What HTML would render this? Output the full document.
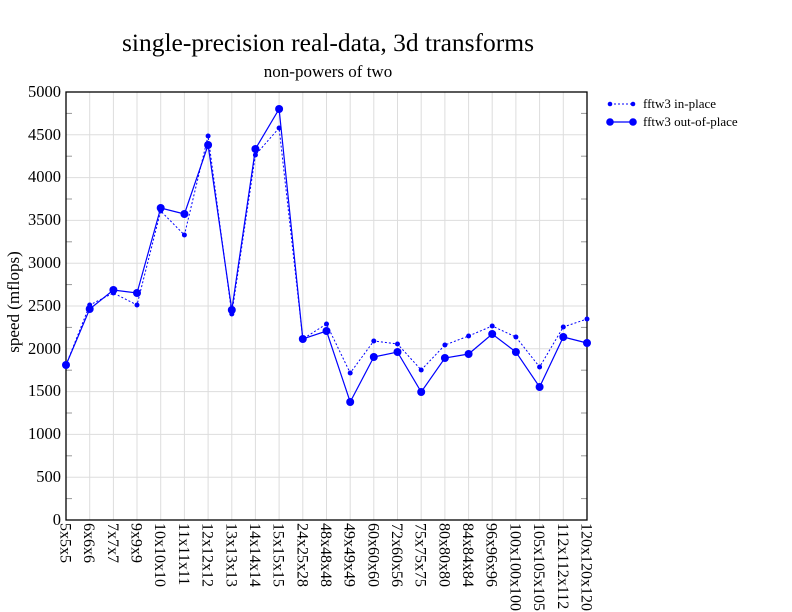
<!DOCTYPE html>
<html><head><meta charset="utf-8"><style>body{margin:0;background:#fff}svg{display:block}text{font-family:"Liberation Serif",serif}</style></head><body>
<svg width="792" height="612" viewBox="0 0 792 612" xmlns="http://www.w3.org/2000/svg">
<text x="328" y="51" font-size="25.5" text-anchor="middle">single-precision real-data, 3d transforms</text>
<text x="328" y="77" font-size="17" text-anchor="middle">non-powers of two</text>
<g stroke="#dddddd" stroke-width="1">
<line x1="66" y1="477.2" x2="587" y2="477.2"/><line x1="66" y1="434.4" x2="587" y2="434.4"/><line x1="66" y1="391.6" x2="587" y2="391.6"/><line x1="66" y1="348.8" x2="587" y2="348.8"/><line x1="66" y1="306" x2="587" y2="306"/><line x1="66" y1="263.2" x2="587" y2="263.2"/><line x1="66" y1="220.4" x2="587" y2="220.4"/><line x1="66" y1="177.6" x2="587" y2="177.6"/><line x1="66" y1="134.8" x2="587" y2="134.8"/>
<line x1="89.7" y1="92" x2="89.7" y2="520"/><line x1="113.4" y1="92" x2="113.4" y2="520"/><line x1="137" y1="92" x2="137" y2="520"/><line x1="160.7" y1="92" x2="160.7" y2="520"/><line x1="184.4" y1="92" x2="184.4" y2="520"/><line x1="208.1" y1="92" x2="208.1" y2="520"/><line x1="231.8" y1="92" x2="231.8" y2="520"/><line x1="255.4" y1="92" x2="255.4" y2="520"/><line x1="279.1" y1="92" x2="279.1" y2="520"/><line x1="302.8" y1="92" x2="302.8" y2="520"/><line x1="326.5" y1="92" x2="326.5" y2="520"/><line x1="350.2" y1="92" x2="350.2" y2="520"/><line x1="373.8" y1="92" x2="373.8" y2="520"/><line x1="397.5" y1="92" x2="397.5" y2="520"/><line x1="421.2" y1="92" x2="421.2" y2="520"/><line x1="444.9" y1="92" x2="444.9" y2="520"/><line x1="468.6" y1="92" x2="468.6" y2="520"/><line x1="492.2" y1="92" x2="492.2" y2="520"/><line x1="515.9" y1="92" x2="515.9" y2="520"/><line x1="539.6" y1="92" x2="539.6" y2="520"/><line x1="563.3" y1="92" x2="563.3" y2="520"/>
</g>
<g stroke="#999" stroke-width="1">
<line x1="66" y1="498.6" x2="72" y2="498.6"/><line x1="66" y1="455.8" x2="72" y2="455.8"/><line x1="66" y1="413" x2="72" y2="413"/><line x1="66" y1="370.2" x2="72" y2="370.2"/><line x1="66" y1="327.4" x2="72" y2="327.4"/><line x1="66" y1="284.6" x2="72" y2="284.6"/><line x1="66" y1="241.8" x2="72" y2="241.8"/><line x1="66" y1="199" x2="72" y2="199"/><line x1="66" y1="156.2" x2="72" y2="156.2"/><line x1="66" y1="113.4" x2="72" y2="113.4"/>
<line x1="581" y1="498.6" x2="587" y2="498.6"/><line x1="581" y1="455.8" x2="587" y2="455.8"/><line x1="581" y1="413" x2="587" y2="413"/><line x1="581" y1="370.2" x2="587" y2="370.2"/><line x1="581" y1="327.4" x2="587" y2="327.4"/><line x1="581" y1="284.6" x2="587" y2="284.6"/><line x1="581" y1="241.8" x2="587" y2="241.8"/><line x1="581" y1="199" x2="587" y2="199"/><line x1="581" y1="156.2" x2="587" y2="156.2"/><line x1="581" y1="113.4" x2="587" y2="113.4"/>
</g>
<rect x="66" y="92" width="521" height="428" fill="none" stroke="#000" stroke-width="1.3"/>
<g font-size="16.5" text-anchor="end">
<text x="61" y="525">0</text><text x="61" y="482">500</text><text x="61" y="439">1000</text><text x="61" y="396">1500</text><text x="61" y="354">2000</text><text x="61" y="311">2500</text><text x="61" y="268">3000</text><text x="61" y="225">3500</text><text x="61" y="182">4000</text><text x="61" y="140">4500</text><text x="61" y="97">5000</text>
</g>
<text transform="translate(19,302) rotate(-90)" font-size="17" text-anchor="middle">speed (mflops)</text>
<g font-size="16">
<text transform="translate(60.5,523) rotate(90)">5x5x5</text>
<text transform="translate(84.2,523) rotate(90)">6x6x6</text>
<text transform="translate(107.9,523) rotate(90)">7x7x7</text>
<text transform="translate(131.5,523) rotate(90)">9x9x9</text>
<text transform="translate(155.2,523) rotate(90)">10x10x10</text>
<text transform="translate(178.9,523) rotate(90)">11x11x11</text>
<text transform="translate(202.6,523) rotate(90)">12x12x12</text>
<text transform="translate(226.3,523) rotate(90)">13x13x13</text>
<text transform="translate(249.9,523) rotate(90)">14x14x14</text>
<text transform="translate(273.6,523) rotate(90)">15x15x15</text>
<text transform="translate(297.3,523) rotate(90)">24x25x28</text>
<text transform="translate(321,523) rotate(90)">48x48x48</text>
<text transform="translate(344.7,523) rotate(90)">49x49x49</text>
<text transform="translate(368.3,523) rotate(90)">60x60x60</text>
<text transform="translate(392,523) rotate(90)">72x60x56</text>
<text transform="translate(415.7,523) rotate(90)">75x75x75</text>
<text transform="translate(439.4,523) rotate(90)">80x80x80</text>
<text transform="translate(463.1,523) rotate(90)">84x84x84</text>
<text transform="translate(486.7,523) rotate(90)">96x96x96</text>
<text transform="translate(510.4,523) rotate(90)">100x100x100</text>
<text transform="translate(534.1,523) rotate(90)">105x105x105</text>
<text transform="translate(557.8,523) rotate(90)">112x112x112</text>
<text transform="translate(581.5,523) rotate(90)">120x120x120</text>
</g>
<g fill="#0000ff" stroke="#0000ff">
<polyline fill="none" stroke-width="1" stroke-dasharray="2,2" points="66,365 89.7,305 113.4,293 137,305 160.7,211 184.4,235 208.1,136 231.8,314 255.4,155 279.1,128 302.8,339 326.5,324 350.2,373 373.8,341 397.5,344 421.2,370 444.9,345 468.6,336 492.2,326 515.9,337 539.6,367 563.3,327 587,319"/>
<g stroke="none">
<circle cx="66" cy="365" r="2.5"/><circle cx="89.7" cy="305" r="2.5"/><circle cx="113.4" cy="293" r="2.5"/><circle cx="137" cy="305" r="2.5"/><circle cx="160.7" cy="211" r="2.5"/><circle cx="184.4" cy="235" r="2.5"/><circle cx="208.1" cy="136" r="2.5"/><circle cx="231.8" cy="314" r="2.5"/><circle cx="255.4" cy="155" r="2.5"/><circle cx="279.1" cy="128" r="2.5"/><circle cx="302.8" cy="339" r="2.5"/><circle cx="326.5" cy="324" r="2.5"/><circle cx="350.2" cy="373" r="2.5"/><circle cx="373.8" cy="341" r="2.5"/><circle cx="397.5" cy="344" r="2.5"/><circle cx="421.2" cy="370" r="2.5"/><circle cx="444.9" cy="345" r="2.5"/><circle cx="468.6" cy="336" r="2.5"/><circle cx="492.2" cy="326" r="2.5"/><circle cx="515.9" cy="337" r="2.5"/><circle cx="539.6" cy="367" r="2.5"/><circle cx="563.3" cy="327" r="2.5"/><circle cx="587" cy="319" r="2.5"/>
</g>
<polyline fill="none" stroke-width="1.2" points="66,365 89.7,309 113.4,290 137,293 160.7,208 184.4,214 208.1,145 231.8,310 255.4,149 279.1,109 302.8,339 326.5,331 350.2,402 373.8,357 397.5,352 421.2,392 444.9,358 468.6,354 492.2,334 515.9,352 539.6,387 563.3,337 587,343"/>
<g stroke="none">
<circle cx="66" cy="365" r="4"/><circle cx="89.7" cy="309" r="4"/><circle cx="113.4" cy="290" r="4"/><circle cx="137" cy="293" r="4"/><circle cx="160.7" cy="208" r="4"/><circle cx="184.4" cy="214" r="4"/><circle cx="208.1" cy="145" r="4"/><circle cx="231.8" cy="310" r="4"/><circle cx="255.4" cy="149" r="4"/><circle cx="279.1" cy="109" r="4"/><circle cx="302.8" cy="339" r="4"/><circle cx="326.5" cy="331" r="4"/><circle cx="350.2" cy="402" r="4"/><circle cx="373.8" cy="357" r="4"/><circle cx="397.5" cy="352" r="4"/><circle cx="421.2" cy="392" r="4"/><circle cx="444.9" cy="358" r="4"/><circle cx="468.6" cy="354" r="4"/><circle cx="492.2" cy="334" r="4"/><circle cx="515.9" cy="352" r="4"/><circle cx="539.6" cy="387" r="4"/><circle cx="563.3" cy="337" r="4"/><circle cx="587" cy="343" r="4"/>
</g>
<line x1="610" y1="104" x2="633" y2="104" stroke-width="1" stroke-dasharray="2,2"/>
<circle cx="610" cy="104" r="2.3" stroke="none"/><circle cx="633" cy="104" r="2.3" stroke="none"/>
<line x1="610" y1="122" x2="633" y2="122" stroke-width="1.2"/>
<circle cx="610" cy="122" r="3.8" stroke="none"/><circle cx="633" cy="122" r="3.8" stroke="none"/>
</g>
<text x="643" y="108" font-size="13">fftw3 in-place</text>
<text x="643" y="126" font-size="13">fftw3 out-of-place</text>
</svg>
</body></html>
